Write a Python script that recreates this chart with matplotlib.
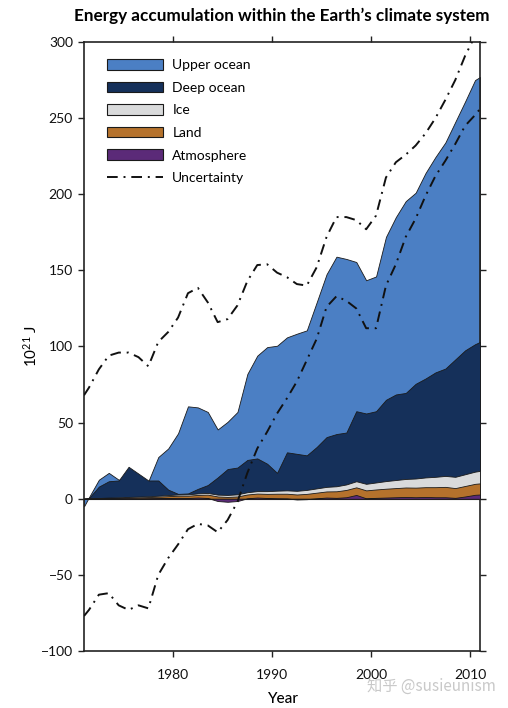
import numpy as np
import matplotlib
matplotlib.use("Agg")
import matplotlib.pyplot as plt
from matplotlib.patches import Patch
from matplotlib.lines import Line2D

plt.rcParams['font.family'] = ['Lato', 'DejaVu Sans']
plt.rcParams['mathtext.default'] = 'regular'

# annual values plotted at mid-year, plus the two axis edges
years = np.concatenate(([1971.0], np.arange(1971.5, 2011.0), [2011.0]))

# energy (10^21 J) per component, relative to 1971
atmosphere = [0.0,
              0.0, 0.1, 0.2, 0.2, 0.3, 0.2, 0.3, 0.4, 0.5,
              0.6, 0.5, 0.8, 0.5, -1.5, -2.0, -1.5, 0.3, 0.8, 0.5,
              0.3, 0.2, -0.5, -0.3, 0.3, 0.8, 0.6, 1.0, 2.5, 0.3,
              0.6, 0.8, 1.0, 1.2, 1.0, 1.2, 1.0, 1.0, 0.6, 1.5, 2.6,
              2.8]
land = [0.0,
        0.0, 0.2, 0.3, 0.4, 0.5, 0.7, 0.8, 1.0, 1.2,
        1.4, 1.5, 1.7, 2.2, 3.0, 3.2, 3.0, 2.5, 2.6, 2.7,
        3.0, 3.1, 3.3, 3.5, 3.7, 4.0, 4.3, 4.8, 5.0, 5.2,
        5.5, 5.8, 6.0, 6.2, 6.3, 6.4, 6.6, 6.8, 6.4, 6.9, 7.2,
        7.3]
ice = [0.0,
       0.1, 0.2, 0.3, 0.3, 0.4, 0.5, 0.5, 0.6, 0.7,
       0.8, 0.9, 1.0, 1.1, 1.2, 1.3, 1.4, 1.5, 1.6, 1.8,
       2.0, 2.2, 2.4, 2.6, 2.8, 3.0, 3.3, 3.6, 4.0, 4.3,
       4.6, 5.0, 5.3, 5.6, 6.0, 6.4, 6.8, 7.2, 7.4, 7.7, 8.0,
       8.2]
deep_ocean = [0.0,
              0.4, 7.5, 10.7, 11.1, 19.8, 15.1, 10.4, 10.0, 3.6,
              0.4, 0.6, 3.0, 5.2, 11.3, 17.0, 17.6, 21.2, 21.5, 18.0,
              11.7, 25.0, 24.3, 22.7, 27.2, 32.7, 34.3, 34.1, 46.0, 46.2,
              46.8, 53.4, 56.2, 56.5, 62.2, 65.0, 68.6, 70.5, 77.1, 81.4, 83.7,
              84.7]
upper_ocean = [-5.0,
               0.5, 4.5, 5.5, 0.5, -7.0, -4.5, -0.5, 15.4, 27.0,
               39.8, 57.2, 53.5, 48.0, 31.5, 31.0, 36.5, 56.5, 67.5, 76.6,
               83.5, 75.5, 78.9, 82.1, 95.0, 107.0, 116.5, 114.0, 98.0, 87.5,
               88.5, 107.0, 116.5, 126.0, 125.5, 135.0, 141.5, 148.5, 156.0, 163.5, 173.5,
               174.0]

# uncertainty envelope of the total
unc_high = [68,
            73, 85, 94, 96, 96, 93, 87, 103, 109.5,
            119, 135, 138.5, 129, 116, 118, 127, 143, 153.5, 154,
            148.5, 145.5, 141, 140, 152, 172, 185, 185, 183, 177,
            186, 211, 221, 226, 232, 240, 250, 262, 275, 291, 304,
            309]
unc_low = [-77,
           -73, -63, -62, -70, -73, -70, -72, -50, -39,
           -30, -20, -16.5, -17.5, -22, -14, -2, 17, 33, 44,
           56, 66, 77, 91, 105, 126, 133, 130, 125, 112,
           112, 140, 154, 172, 184, 199, 212, 222, 233, 245, 252,
           256]

labels = ["Upper ocean", "Deep ocean", "Ice", "Land", "Atmosphere"]
colors = ["#4b7fc4", "#15305a", "#d9dadb", "#b5722c", "#5b2a78"]
edge = "#1a1a1a"

# stack from the bottom: atmosphere, land, ice, deep, upper
layers = [atmosphere, land, ice, deep_ocean, upper_ocean]
cum = np.cumsum(np.array(layers, dtype=float), axis=0)

fig = plt.figure(figsize=(5.08, 7.08), dpi=100)
ax = fig.add_axes([0.1654, 0.0805, 0.7795, 0.8602])

# draw the top (total) first so lower layers cover it
for i, (lab, col) in enumerate(zip(labels, colors)):
    top = cum[4 - i]
    ax.fill_between(years, 0, top, facecolor=col, edgecolor=edge,
                    linewidth=0.6, zorder=2 + i)

dash = (0, (5.5, 3, 1, 3))
ax.plot(years, unc_high, color="#111111", lw=1.4, linestyle=dash, zorder=8)
ax.plot(years, unc_low, color="#111111", lw=1.4, linestyle=dash, zorder=8)
ax.axhline(0, color="black", lw=0.8, zorder=1)

ax.set_xlim(1971, 2011)
ax.set_ylim(-100, 300)
ax.set_xticks([1980, 1990, 2000, 2010])
ax.set_yticks(np.arange(-100, 301, 50))
ax.tick_params(direction="out", length=4, width=1, labelsize=10,
               top=True, right=True, labeltop=False, labelright=False,
               color="#222222", labelcolor="#111111")
ax.tick_params(axis="x", pad=9)
ax.tick_params(axis="y", pad=4)
for sp in ax.spines.values():
    sp.set_linewidth(1.2)
    sp.set_color("#222222")

ax.set_xlabel("Year", fontsize=11, labelpad=8, fontweight="medium")
ax.set_ylabel(r"10$^{21}$ J", fontsize=11, labelpad=1)
ax.set_title("Energy accumulation within the Earth\u2019s climate system",
             fontsize=12.3, fontweight="bold", pad=15)

handles = [Patch(facecolor=c, edgecolor=edge, linewidth=0.8) for c in colors]
handles.append(Line2D([0], [0], color="#111111", lw=1.4, linestyle=dash))
ax.legend(handles, labels + ["Uncertainty"], loc="upper left",
          bbox_to_anchor=(0.03, 0.99), frameon=False, fontsize=10,
          handlelength=4.0, handleheight=0.8, labelspacing=0.75,
          handletextpad=0.7, borderpad=0.3)

fig.text(0.722, 0.030, "\u77e5\u4e4e @susieunism", color="#c9c9c9", fontsize=11,
         family=["Noto Sans CJK SC", "DejaVu Sans"], va="center", zorder=10)

fig.savefig("out.png", dpi=100)
